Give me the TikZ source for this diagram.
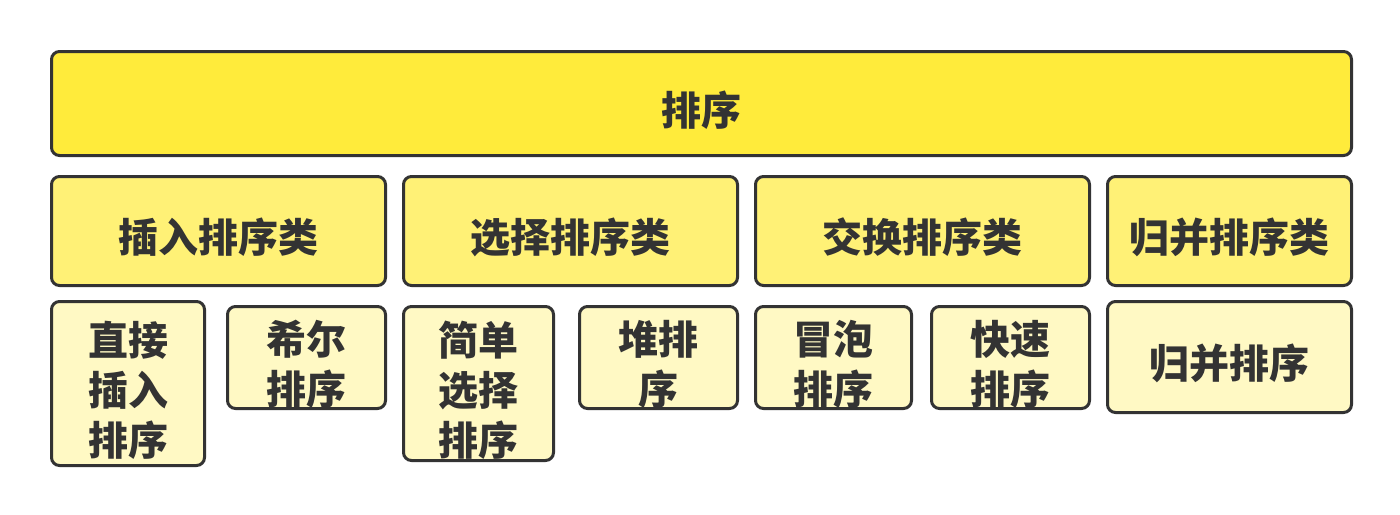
\documentclass[tikz,border=0pt]{standalone}
\usepackage{fontspec}
\usepackage{xcolor}
\newfontfamily\cjk{Noto Sans CJK SC}
\definecolor{SortEdge}{RGB}{51,51,51}
\definecolor{SortText}{RGB}{51,51,51}
\definecolor{SortRoot}{RGB}{255,235,59}
\definecolor{SortCat}{RGB}{255,241,118}
\definecolor{SortLeaf}{RGB}{255,249,196}
\begin{document}
\begin{tikzpicture}[x=1pt,y=-1pt,box/.style={rectangle,rounded corners=8pt,draw=SortEdge,line width=3pt,anchor=north west,align=center,inner sep=0pt,text=SortText,text height=47pt,font=\cjk\bfseries\fontsize{40}{50}\selectfont},root/.style={box,fill=SortRoot},cat/.style={box,fill=SortCat},leaf/.style={box,fill=SortLeaf}]
\useasboundingbox (0,0) rectangle (1400,514);
\node[root,minimum width=1300pt,minimum height=104pt] (sort) at (50,50) {排序};
% second row
\node[cat,minimum width=334pt,minimum height=109pt] (insert) at (50,175) {插入排序类};
\node[cat,minimum width=334pt,minimum height=109pt] (select) at (402,175) {选择排序类};
\node[cat,minimum width=334pt,minimum height=109pt] (swap) at (754,175) {交换排序类};
\node[cat,minimum width=244pt,minimum height=109pt] (merge) at (1106,175) {归并排序类};
% third row
\node[leaf,text height=147pt,minimum width=153pt,minimum height=164pt] (direct) at (50,300) {直接\\插入\\排序};
\node[leaf,text height=97pt,minimum width=158pt,minimum height=102pt] (shell) at (226,305) {希尔\\排序};
\node[leaf,text height=147pt,minimum width=150pt,minimum height=154pt] (simple) at (402,305) {简单\\选择\\排序};
\node[leaf,text height=97pt,minimum width=158pt,minimum height=102pt] (heap) at (578,305) {堆排\\序};
\node[leaf,text height=97pt,minimum width=156pt,minimum height=102pt] (bubble) at (754,305) {冒泡\\排序};
\node[leaf,text height=97pt,minimum width=158pt,minimum height=102pt] (quick) at (930,305) {快速\\排序};
\node[leaf,minimum width=244pt,minimum height=111pt] (mergesort) at (1106,300) {归并排序};
\end{tikzpicture}
\end{document}
